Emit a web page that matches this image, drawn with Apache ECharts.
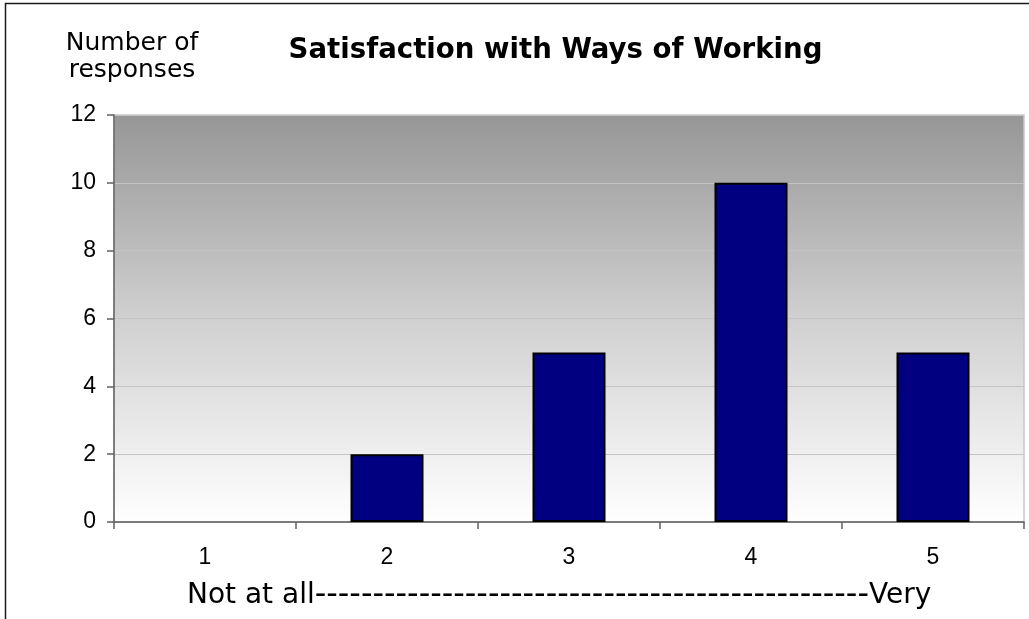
<!DOCTYPE html>
<html>
<head>
<meta charset="utf-8">
<script src="https://cdn.jsdelivr.net/npm/echarts@6/dist/echarts.min.js"></script>
<style>
  html, body { margin: 0; padding: 0; background: #ffffff; }
  #chart { width: 1029px; height: 619px; }
</style>
</head>
<body>
<div id="chart"></div>
<script>
// ---- data ----
const categories = ['1', '2', '3', '4', '5'];
const responses = [0, 2, 5, 10, 5];
const yMin = 0;
const yMax = 12;
const yInterval = 2;
const titleText = 'Satisfaction with Ways of Working';
const yAxisTitle = 'Number of\nresponses';
const scaleStart = 'Not at all';
const scaleDashes = '------------------------------------------------';
const scaleEnd = 'Very';

const chart = echarts.init(document.getElementById('chart'), null, { renderer: 'canvas' });

const barData = responses.map(function (v) {
  return v === 0 ? { value: v, itemStyle: { borderWidth: 0 } } : { value: v };
});

const option = {
  backgroundColor: '#ffffff',
  animation: false,
  grid: {
    left: 114,
    right: 5,
    top: 115,
    bottom: 97,
    show: true,
    borderColor: '#c8c8c8',
    borderWidth: 1.5,
    backgroundColor: {
      type: 'linear', x: 0, y: 0, x2: 0, y2: 1,
      colorStops: [
        { offset: 0, color: '#969696' },
        { offset: 0.5, color: '#d0d0d0' },
        { offset: 1, color: '#ffffff' }
      ]
    }
  },
  xAxis: {
    type: 'category',
    data: categories,
    boundaryGap: true,
    axisLine: { show: true, lineStyle: { color: '#606060', width: 1.5 } },
    axisTick: { show: true, length: 7, alignWithLabel: false, lineStyle: { color: '#606060', width: 1.5 } },
    axisLabel: { color: '#000000', fontFamily: '"Liberation Sans", Arial, sans-serif', fontSize: 23, margin: 24 },
    splitLine: { show: false }
  },
  yAxis: {
    type: 'value',
    min: yMin,
    max: yMax,
    interval: yInterval,
    axisLine: { show: true, lineStyle: { color: '#606060', width: 1.5 } },
    axisTick: { show: true, length: 7, lineStyle: { color: '#606060', width: 1.5 } },
    axisLabel: { color: '#000000', fontFamily: '"Liberation Sans", Arial, sans-serif', fontSize: 23, margin: 18 },
    splitLine: { show: true, lineStyle: { color: '#c4c4c4', width: 1 } }
  },
  series: [{
    type: 'bar',
    data: barData,
    barWidth: 73,
    itemStyle: { color: '#000080', borderColor: '#000000', borderWidth: 2 }
  }],
  graphic: [
    {
      type: 'rect',
      silent: true,
      z: 100,
      shape: { x: 5.5, y: 3.5, width: 1200, height: 800 },
      style: { fill: null, stroke: '#1a1a1a', lineWidth: 1.5 }
    },
    {
      type: 'text',
      z: 100,
      style: {
        text: titleText,
        x: 555.5, y: 51,
        font: 'bold 27.6px "DejaVu Sans"',
        fill: '#000000',
        align: 'center',
        verticalAlign: 'middle'
      }
    },
    {
      type: 'text',
      z: 100,
      style: {
        text: yAxisTitle,
        x: 132, y: 57,
        font: '25px "DejaVu Sans"',
        lineHeight: 27,
        fill: '#000000',
        align: 'center',
        verticalAlign: 'middle'
      }
    },
    {
      type: 'text',
      z: 100,
      style: {
        text: '{a|' + scaleStart + '}{d|' + scaleDashes + '}{a|' + scaleEnd + '}',
        x: 187, y: 596,
        align: 'left',
        verticalAlign: 'middle',
        rich: {
          a: { fontFamily: 'DejaVu Sans', fontSize: 28, fill: '#000000', color: '#000000' },
          d: { fontFamily: 'DejaVu Sans', fontSize: 32, fill: '#000000', color: '#000000' }
        }
      }
    }
  ]
};

chart.setOption(option);
</script>
</body>
</html>
